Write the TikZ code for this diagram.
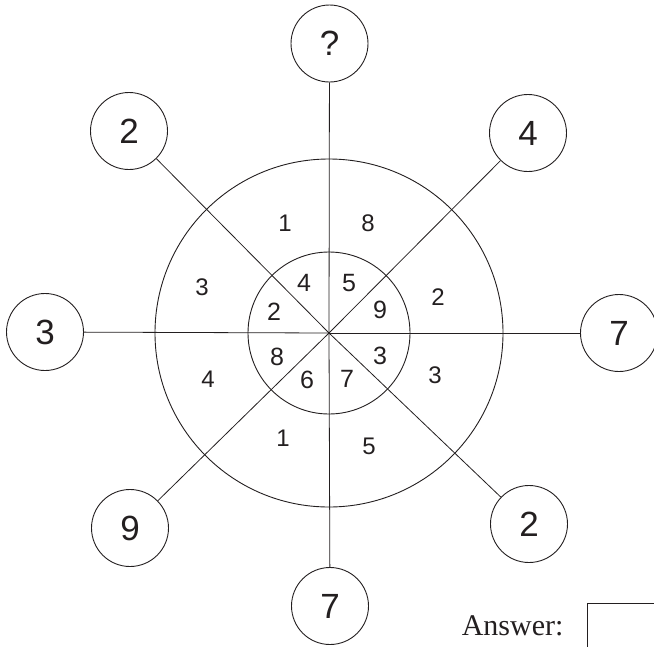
\documentclass[tikz,border=0pt]{standalone}
\usepackage{fontspec}
\setmainfont{Liberation Sans}
\newfontfamily\answerfont{Liberation Serif}
\usetikzlibrary{positioning}
\definecolor{ink}{RGB}{35,31,32}

\begin{document}
\begin{tikzpicture}[x=1pt, y=-1pt, ink,
  ball/.style={draw, circle, minimum size=77pt, inner sep=0pt, line width=0.9pt,
    font=\fontsize{35}{35}\selectfont},
  ringnum/.style={font=\fontsize{24}{24}\selectfont},
  hubnum/.style={font=\fontsize{25}{25}\selectfont}]
  \useasboundingbox (0,0) rectangle (654,646);
  \coordinate (c) at (329,333);
  % outer numbers
  \node[ball] (q)  at (329.5,43.5) {?};
  \node[ball] (tl) at (129,131) {2};
  \node[ball] (tr) at (528,133) {4};
  \node[ball] (l)  at (45,332) {3};
  \node[ball] (r)  at (619,333) {7};
  \node[ball] (bl) at (130,528) {9};
  \node[ball] (br) at (529,524) {2};
  \node[ball] (b)  at (330,606) {7};
  % spokes
  \foreach \n in {q,tl,tr,l,r,bl,br,b}
    \draw[line width=0.8pt] (c) -- (\n);
  % rings
  \draw[line width=0.9pt] (c) circle (174pt);
  \draw[line width=0.9pt] (c) circle (81pt);
  % outer ring
  \foreach \i/\x/\y/\v in {1/285/223/1, 2/368/223/8, 3/202/287/3, 4/438/297/2,
                           5/208/379/4, 6/435/375/3, 7/283/438/1, 8/369/446/5}
    \node[ringnum] (m\i) at (\x,\y) {\v};
  % inner ring
  \foreach \i/\x/\y/\v in {1/304/283/4, 2/349/283/5, 3/274/312/2, 4/380/310/9,
                           5/277/357/8, 6/380/356/3, 7/307/380/6, 8/347/379/7}
    \node[hubnum] (h\i) at (\x,\y) {\v};
  % answer
  \node[anchor=base east, font=\answerfont\fontsize{30}{30}\selectfont] (ans) at (567,635) {Answer:};
  \node[draw, line width=0.8pt, anchor=north west, minimum width=100pt, minimum height=60pt] (box) at (587,603) {};
\end{tikzpicture}
\end{document}
